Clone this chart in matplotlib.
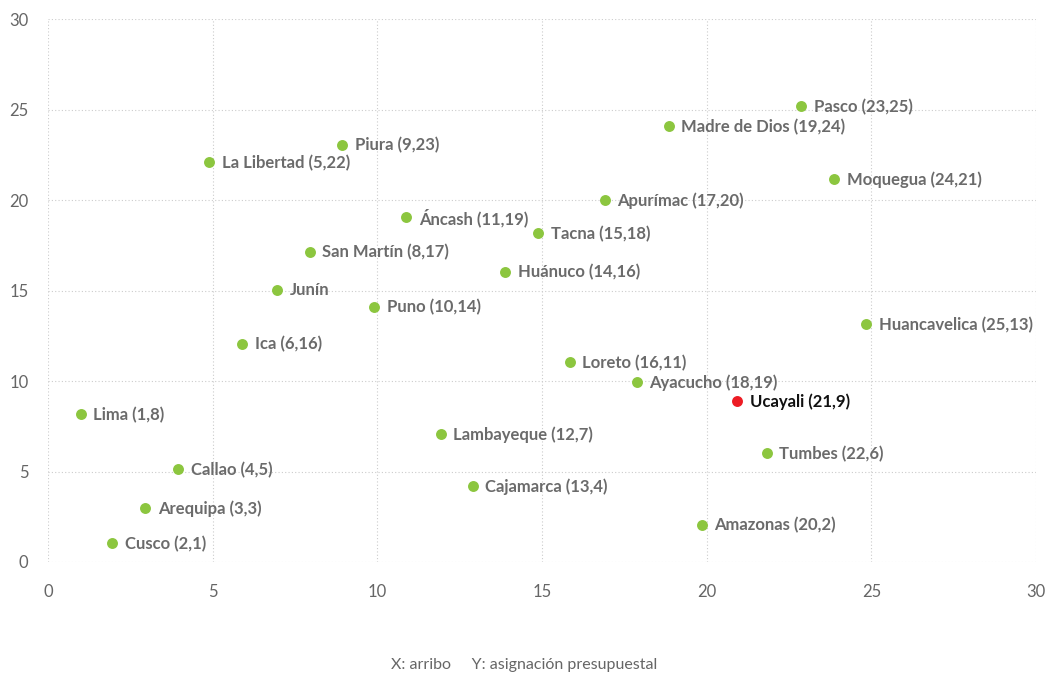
import matplotlib
matplotlib.use("Agg")
import matplotlib.pyplot as plt

# regions, point positions, and the label text shown beside each point
regiones = ["Lima", "Cusco", "Arequipa", "Callao", "La Libertad", "Ica", "Junín",
            "San Martín", "Piura", "Puno", "Áncash", "Lambayeque", "Cajamarca",
            "Huánuco", "Tacna", "Loreto", "Apurímac", "Ayacucho", "Madre de Dios",
            "Amazonas", "Ucayali", "Tumbes", "Pasco", "Moquegua", "Huancavelica"]
x_vals = [1.0, 1.95, 2.95, 3.95, 4.9, 5.9, 6.95, 7.95, 8.93, 9.9, 10.88, 11.93, 12.9,
          13.88, 14.88, 15.85, 16.9, 17.88, 18.85, 19.86, 20.93, 21.82, 22.87, 23.87, 24.85]
y_vals = [8.18, 1.05, 2.98, 5.12, 22.1, 12.05, 15.05, 17.15, 23.05, 14.1, 19.07, 7.07,
          4.2, 16.03, 18.17, 11.05, 20.0, 9.95, 24.08, 2.05, 8.9, 6.02, 25.18, 21.15, 13.15]
etiquetas = ["(1,8)", "(2,1)", "(3,3)", "(4,5)", "(5,22)", "(6,16)", "", "(8,17)",
             "(9,23)", "(10,14)", "(11,19)", "(12,7)", "(13,4)", "(14,16)", "(15,18)",
             "(16,11)", "(17,20)", "(18,19)", "(19,24)", "(20,2)", "(21,9)", "(22,6)",
             "(23,25)", "(24,21)", "(25,13)"]
destacado = "Ucayali"

x_ticks = [0, 5, 10, 15, 20, 25, 30]
y_ticks = [0, 5, 10, 15, 20, 25, 30]

plt.rcParams['font.family'] = ['Lato', 'DejaVu Sans']

fig = plt.figure(figsize=(10.49, 6.75), dpi=100)
ax = fig.add_axes([48/1049, 113/675, 988/1049, 543/675])

verde = "#8cc63f"
rojo = "#ed1c24"
for nom, x, y, et in zip(regiones, x_vals, y_vals, etiquetas):
    es_dest = nom == destacado
    ax.scatter([x], [y], s=62, color=rojo if es_dest else verde, zorder=3, linewidths=0)
    texto = nom if et == "" else nom + " " + et
    ax.annotate(texto, (x, y), xytext=(9, -0.5), textcoords="offset points",
                va="center", ha="left", fontsize=12, fontweight="bold",
                color="#111111" if es_dest else "#6b6b6b", zorder=4)

ax.set_xlim(0, 30)
ax.set_ylim(0, 30)
ax.set_xticks(x_ticks)
ax.set_yticks(y_ticks)
ax.grid(True, linestyle=(0, (1, 2)), color="#cccccc", linewidth=0.8)
ax.set_axisbelow(True)
for s in ax.spines.values():
    s.set_visible(False)
ax.tick_params(length=0, labelsize=12, labelcolor="#666666", pad=16)
ax.tick_params(axis="y", pad=14)

fig.text(0.5, 1 - 672/675, "X: arribo     Y: asignación presupuestal",
         ha="center", va="bottom", fontsize=11.5, color="#666666")

fig.savefig("out.png", dpi=100)
